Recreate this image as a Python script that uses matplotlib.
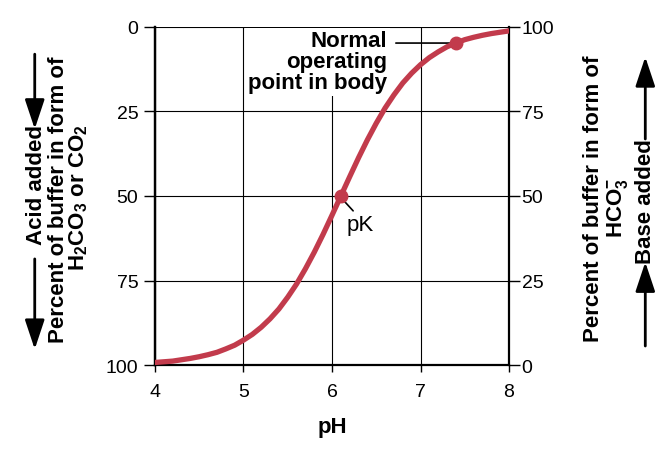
import matplotlib
matplotlib.use("Agg")
import matplotlib.pyplot as plt

plt.rcParams["font.family"] = ["Liberation Sans", "DejaVu Sans"]
plt.rcParams["mathtext.fontset"] = "custom"
plt.rcParams["mathtext.rm"] = "Liberation Sans:bold"
plt.rcParams["mathtext.it"] = "Liberation Sans:bold"
plt.rcParams["mathtext.bf"] = "Liberation Sans:bold"

# bicarbonate buffer titration curve
ph = [4.0, 4.1, 4.2, 4.3, 4.4, 4.5, 4.6, 4.7, 4.8, 4.9,
      5.0, 5.1, 5.2, 5.3, 5.4, 5.5, 5.6, 5.7, 5.8, 5.9,
      6.0, 6.1, 6.2, 6.3, 6.4, 6.5, 6.6, 6.7, 6.8, 6.9,
      7.0, 7.1, 7.2, 7.3, 7.4, 7.5, 7.6, 7.7, 7.8, 7.9, 8.0]
pct_base = [0.8, 1.0, 1.2, 1.6, 2.0, 2.5, 3.1, 3.8, 4.8, 5.9,
            7.4, 9.1, 11.2, 13.7, 16.6, 20.1, 24.0, 28.5, 33.4, 38.7,
            44.3, 50.0, 55.7, 61.3, 66.6, 71.5, 76.0, 79.9, 83.4, 86.3,
            88.8, 90.9, 92.6, 94.1, 95.2, 96.2, 96.9, 97.5, 98.0, 98.4, 98.8]
marked_ph = [6.1, 7.4]
marked_base = [50.0, 95.2]

x_ticks = [4, 5, 6, 7, 8]
y_ticks = [0, 25, 50, 75, 100]

RED = "#c23b4c"

fig = plt.figure(figsize=(6.68, 4.56), dpi=100)
ax = fig.add_axes([0.232, 0.197, 0.530, 0.742])

ax.plot(ph, pct_base, color=RED, lw=3.8, solid_capstyle="round", zorder=3)
ax.plot(marked_ph, marked_base, "o", color=RED, ms=9, zorder=4)

ax.set_xlim(4, 8)
ax.set_ylim(0, 100)
ax.set_xticks(x_ticks)
ax.set_yticks(y_ticks)
ax.grid(True, color="black", lw=0.8)

ax.yaxis.tick_right()
ax.tick_params(axis="y", direction="out", length=8, width=1, pad=1, labelsize=14)
ax.tick_params(axis="x", direction="out", length=5, width=1, pad=8, labelsize=14)

for side in ("left", "right", "bottom"):
    ax.spines[side].set_linewidth(1.6)
ax.spines["top"].set_visible(False)

secax = ax.secondary_yaxis("left", functions=(lambda y: 100 - y, lambda y: 100 - y))
secax.set_yticks(y_ticks)
secax.tick_params(direction="out", length=8, width=1, pad=4, labelsize=14)
secax.spines["left"].set_linewidth(1.6)

ax.set_xlabel("pH", fontsize=16, fontweight="bold", labelpad=11)

# annotations
ax.text(6.62, 99.0, "Normal\noperating\npoint in body", ha="right", va="top",
        fontsize=16, fontweight="bold", linespacing=1.0, zorder=2,
        bbox=dict(facecolor="white", edgecolor="none", pad=2))
ax.annotate("", xy=(7.4, 95.2), xytext=(6.69, 95.2),
            arrowprops=dict(arrowstyle="-", color="black", lw=1.2), zorder=2.5)
ax.text(6.16, 41.5, "pK", ha="left", va="center", fontsize=16, zorder=5)
ax.annotate("", xy=(6.12, 49.0), xytext=(6.26, 45.0),
            arrowprops=dict(arrowstyle="-", color="black", lw=1.2), zorder=2.5)

# side labels
fig.text(0.087, 0.561, "Percent of buffer in form of", rotation=90,
         ha="center", va="center", fontsize=16, fontweight="bold")
fig.text(0.118, 0.566, r"H$_2$CO$_3$ or CO$_2$", rotation=90,
         ha="center", va="center", fontsize=16, fontweight="bold")
fig.text(0.055, 0.594, "Acid added", rotation=90,
         ha="center", va="center", fontsize=16, fontweight="bold")

fig.text(0.888, 0.564, "Percent of buffer in form of", rotation=90,
         ha="center", va="center", fontsize=16, fontweight="bold")
fig.text(0.924, 0.544, r"HCO$_3^{-}$", rotation=90,
         ha="center", va="center", fontsize=16, fontweight="bold")
fig.text(0.966, 0.557, "Base added", rotation=90,
         ha="center", va="center", fontsize=16, fontweight="bold")

arrow = dict(arrowstyle="-|>,head_length=0.9,head_width=0.3",
             color="black", lw=2, mutation_scale=20, shrinkA=0, shrinkB=0)
for x, y0, y1 in [(0.052, 0.879, 0.715), (0.052, 0.430, 0.232),
                  (0.966, 0.693, 0.873), (0.966, 0.239, 0.423)]:
    fig.add_artist(matplotlib.patches.FancyArrowPatch(
        (x, y0), (x, y1), transform=fig.transFigure, **arrow))

fig.savefig("out.png", dpi=100)
